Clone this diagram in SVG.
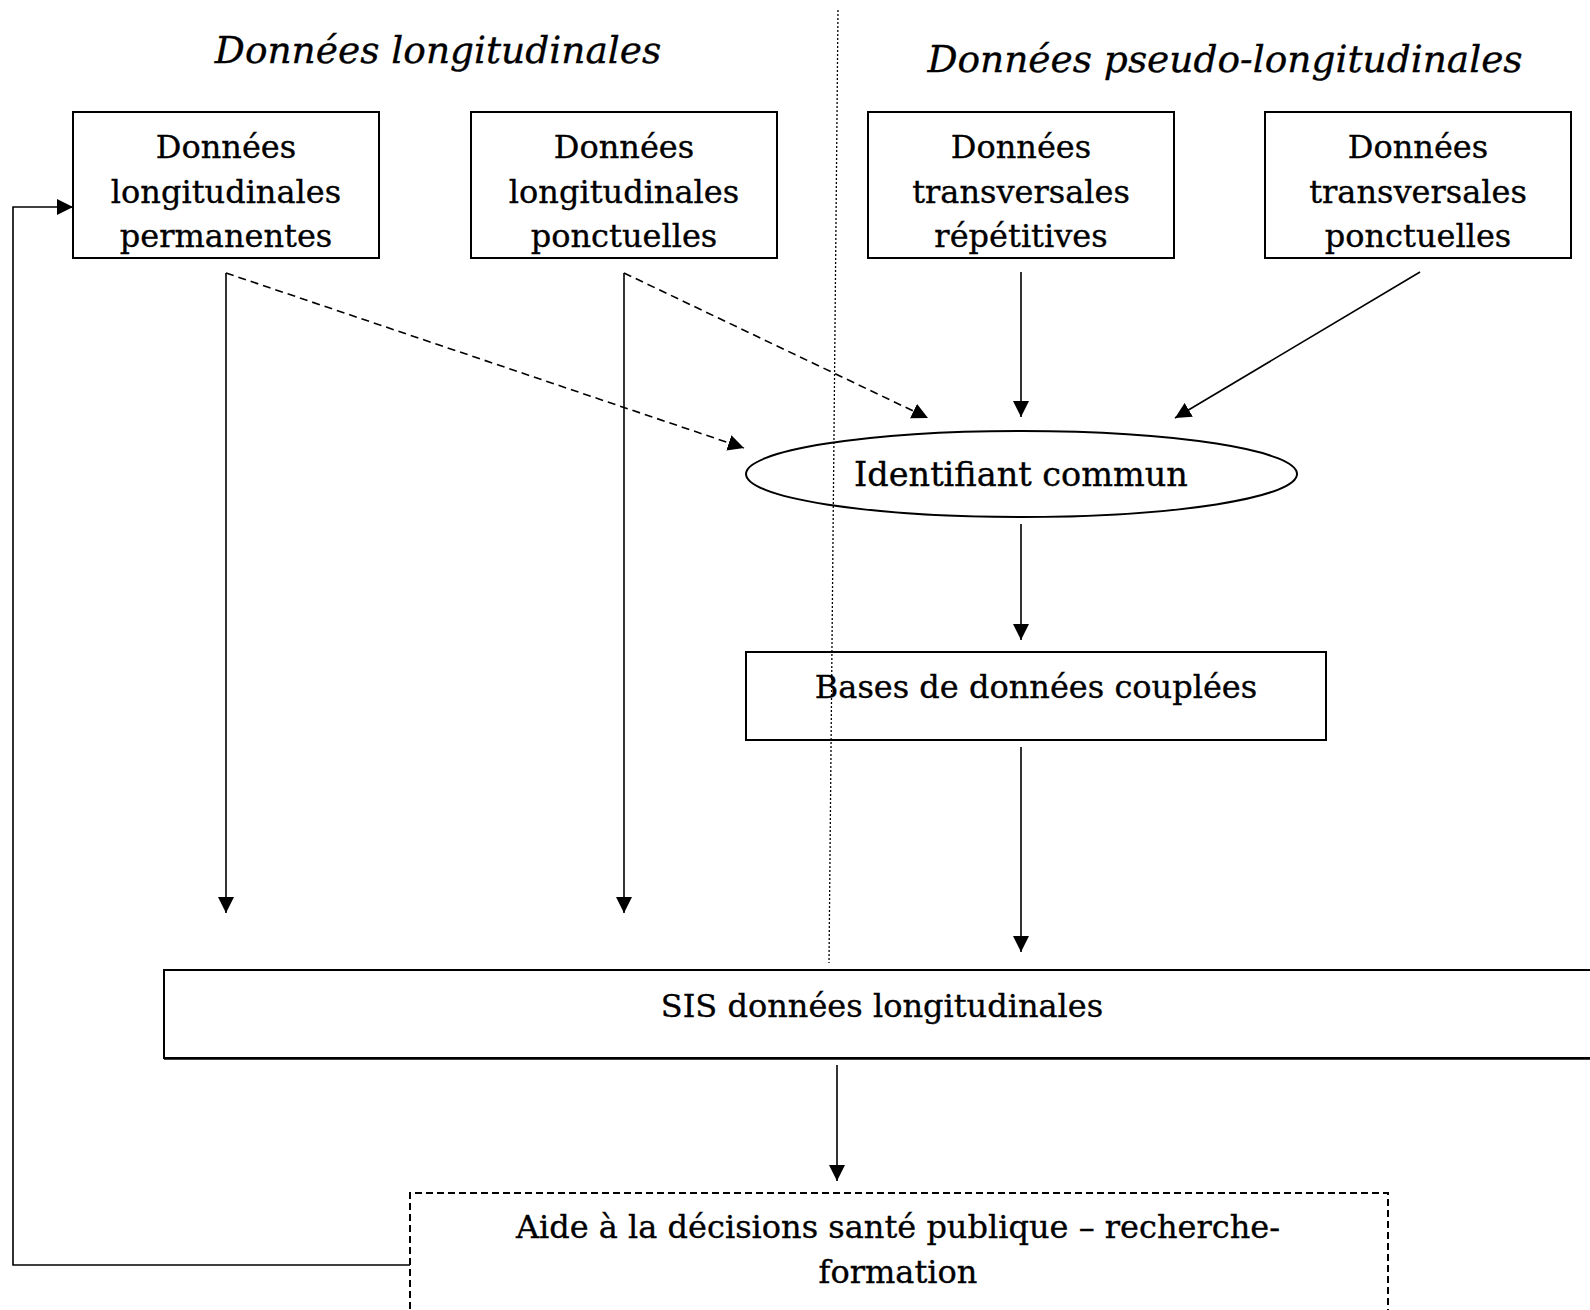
<svg xmlns="http://www.w3.org/2000/svg" width="1590" height="1310" viewBox="0 0 1590 1310">
<style>
text{font-family:"DejaVu Serif","Liberation Serif",serif;font-size:32px;fill:#000;stroke:#000;stroke-width:0.35;text-anchor:middle}
.title{font-style:italic;font-size:37.5px}
.box{fill:#fff;stroke:#000;stroke-width:2}
.con{fill:none;stroke:#000;stroke-width:1.6}
.dash{stroke-dasharray:8 5}
</style>
<defs>
<marker id="ah" markerWidth="17" markerHeight="16" refX="16" refY="8" orient="auto" markerUnits="userSpaceOnUse">
<path d="M0,0 L16,8 L0,16 Z" fill="#000"/>
</marker>
</defs>
<rect width="1590" height="1310" fill="#fff"/>
<g id="titles">
<text class="title" x="438" y="63">Données longitudinales</text>
<text class="title" x="1225" y="72">Données pseudo-longitudinales</text>
</g>
<g id="divider">
<line x1="838" y1="10" x2="829" y2="963" stroke="#000" stroke-width="1.3" stroke-dasharray="2 2"/>
</g>
<g id="n1">
<rect class="box" x="73" y="112" width="306" height="146"/>
<text x="226" y="158">Données</text>
<text x="226" y="203">longitudinales</text>
<text x="226" y="247">permanentes</text>
</g>
<g id="n2">
<rect class="box" x="471" y="112" width="306" height="146"/>
<text x="624" y="158">Données</text>
<text x="624" y="203">longitudinales</text>
<text x="624" y="247">ponctuelles</text>
</g>
<g id="n3">
<rect class="box" x="868" y="112" width="306" height="146"/>
<text x="1021" y="158">Données</text>
<text x="1021" y="203">transversales</text>
<text x="1021" y="247">répétitives</text>
</g>
<g id="n4">
<rect class="box" x="1265" y="112" width="306" height="146"/>
<text x="1418" y="158">Données</text>
<text x="1418" y="203">transversales</text>
<text x="1418" y="247">ponctuelles</text>
</g>
<g id="n5">
<ellipse cx="1021.5" cy="474" rx="275.5" ry="43" fill="none" stroke="#000" stroke-width="2"/>
<text x="1021" y="486" style="font-size:33.5px">Identifiant commun</text>
</g>
<g id="n6">
<rect x="746" y="652" width="580" height="88" fill="none" stroke="#000" stroke-width="2"/>
<text x="1036" y="698">Bases de données couplées</text>
</g>
<g id="n7">
<path d="M1592,970 L164,970 L164,1058 L1592,1058" fill="none" stroke="#000" stroke-width="2"/>
<line x1="164" y1="1058.5" x2="1592" y2="1058.5" stroke="#000" stroke-width="2.5"/>
<text x="882" y="1017">SIS données longitudinales</text>
</g>
<g id="n8">
<path d="M410,1320 L410,1193 L1388,1193 L1388,1320" fill="none" stroke="#000" stroke-width="2" stroke-dasharray="7 4"/>
<text x="898" y="1238">Aide à la décisions santé publique – recherche-</text>
<text x="898" y="1283">formation</text>
</g>
<g id="connectors">
<line class="con" x1="226" y1="273" x2="226" y2="913" marker-end="url(#ah)"/>
<line class="con" x1="624" y1="273" x2="624" y2="913" marker-end="url(#ah)"/>
<line class="con dash" x1="226" y1="273" x2="744" y2="448" marker-end="url(#ah)"/>
<line class="con dash" x1="624" y1="273" x2="928" y2="418" marker-end="url(#ah)"/>
<line class="con" x1="1021" y1="272" x2="1021" y2="417" marker-end="url(#ah)"/>
<line class="con" x1="1420" y1="272" x2="1175" y2="418" marker-end="url(#ah)"/>
<line class="con" x1="1021" y1="524" x2="1021" y2="640" marker-end="url(#ah)"/>
<line class="con" x1="1021" y1="747" x2="1021" y2="952" marker-end="url(#ah)"/>
<line class="con" x1="837" y1="1065" x2="837" y2="1181" marker-end="url(#ah)"/>
<path class="con" d="M410,1265 L13,1265 L13,207 L73,207" stroke-width="2.2" marker-end="url(#ah)"/>
</g>
</svg>
